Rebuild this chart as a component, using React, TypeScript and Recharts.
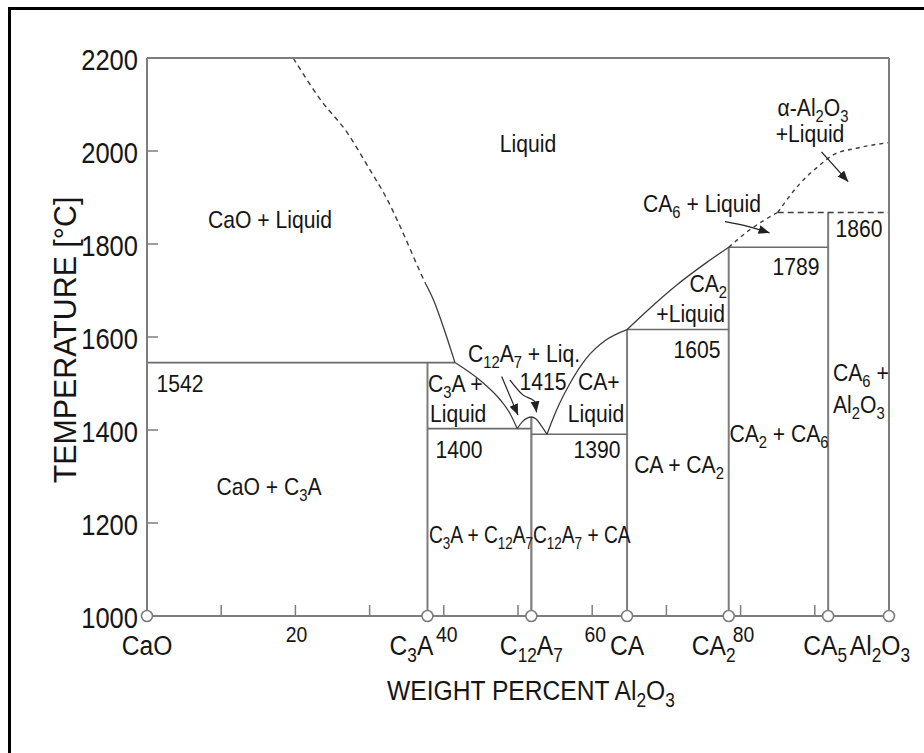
import React from 'react';
import { ComposedChart, Line, Scatter, XAxis, YAxis } from 'recharts';

// Helvetica-narrow look: Arial metrics squeezed horizontally
const FONT = "'Liberation Sans', Arial, sans-serif";
const SX = 0.88;
const INK = '#151515';
const AXIS = '#7d7d7d';
const PHASE = '#6a6a6a';
const CURVE = '#3c3c3c';

// temperature axis (°C)
const tempTicks = [1000, 1200, 1400, 1600, 1800, 2000, 2200];
const tempInnerTicks = [1200, 1400, 1600, 1800, 2000];
// weight percent Al2O3
const pctTicks = [10, 20, 30, 40, 50, 60, 70, 80, 90];
const pctLabels = [20, 40, 60, 80];

// compounds along the composition axis ("_n" = subscript)
const compoundNames = ['CaO', 'C_3A', 'C_12A_7', 'CA', 'CA_2', 'CA_5', 'Al_2O_3'];
const compoundPct = [0, 37.8, 51.8, 64.7, 78.4, 91.8, 100];
const compoundShift: Record<string, number> = { C_3A: -16, CA_2: -15, Al_2O_3: -9, CA_5: -3 };

// liquidus curves, x = wt% Al2O3, t = °C
const caoLiqDashed = [
  { x: 19.7, t: 2200 }, { x: 23.4, t: 2110 }, { x: 27.0, t: 2039 }, { x: 29.8, t: 1966 },
  { x: 32.4, t: 1895 }, { x: 34.5, t: 1824 }, { x: 36.5, t: 1751 }, { x: 37.5, t: 1716 },
];
const caoLiqSolid = [{ x: 37.5, t: 1716 }, { x: 38.6, t: 1680 }, { x: 40.2, t: 1609 }, { x: 41.5, t: 1545 }];
const c3aLiq = [{ x: 41.5, t: 1545 }, { x: 45.4, t: 1500 }, { x: 47.6, t: 1465 }, { x: 48.9, t: 1436 }, { x: 49.9, t: 1403 }];
const c12a7Liq = [
  { x: 49.9, t: 1403 }, { x: 50.6, t: 1418 }, { x: 51.3, t: 1426 }, { x: 51.8, t: 1428 },
  { x: 52.4, t: 1424 }, { x: 53.1, t: 1410 }, { x: 53.9, t: 1391 },
];
const caLiq = [{ x: 53.9, t: 1391 }, { x: 55.2, t: 1443 }, { x: 57.0, t: 1500 }, { x: 59.2, t: 1554 }, { x: 61.9, t: 1594 }, { x: 64.7, t: 1616 }];
const ca2Liq = [{ x: 64.7, t: 1616 }, { x: 67.3, t: 1655 }, { x: 71.4, t: 1712 }, { x: 75.4, t: 1760 }, { x: 78.4, t: 1793 }];
const ca6Liq = [{ x: 78.4, t: 1793 }, { x: 81.2, t: 1830 }, { x: 85.0, t: 1868 }];
const al2o3Liq = [{ x: 85.0, t: 1868 }, { x: 88.0, t: 1930 }, { x: 90.7, t: 1970 }, { x: 92.4, t: 1991 }, { x: 95.6, t: 2006 }, { x: 100, t: 2018 }];

// invariant (horizontal) lines
const iso1542 = [{ x: 0, t: 1545 }, { x: 41.5, t: 1545 }];
const iso1400 = [{ x: 37.8, t: 1403 }, { x: 51.8, t: 1403 }];
const iso1390 = [{ x: 51.8, t: 1391 }, { x: 64.7, t: 1391 }];
const iso1605 = [{ x: 64.7, t: 1616 }, { x: 78.4, t: 1616 }];
const iso1789 = [{ x: 78.4, t: 1793 }, { x: 91.8, t: 1793 }];
const iso1860 = [{ x: 85.0, t: 1868 }, { x: 100, t: 1868 }];

// compound (vertical) lines
const lineC3A = [{ x: 37.8, t: 1000 }, { x: 37.8, t: 1545 }];
const lineC12A7 = [{ x: 51.8, t: 1000 }, { x: 51.8, t: 1428 }];
const lineCA = [{ x: 64.7, t: 1000 }, { x: 64.7, t: 1616 }];
const lineCA2 = [{ x: 78.4, t: 1000 }, { x: 78.4, t: 1793 }];
const lineCA6 = [{ x: 91.8, t: 1000 }, { x: 91.8, t: 1868 }];

// pointer arrows
const arrowCA6 = [{ x: 77.9, t: 1848 }, { x: 81.2, t: 1837 }, { x: 83.9, t: 1824 }];
const arrowAl2O3 = [{ x: 90.9, t: 1998 }, { x: 94.5, t: 1934 }];
const arrowC12A7a = [{ x: 47.8, t: 1515 }, { x: 50.0, t: 1432 }];
const arrowC12A7b = [{ x: 48.9, t: 1508 }, { x: 50.7, t: 1475 }, { x: 52.2, t: 1462 }, { x: 52.5, t: 1438 }];

const compoundPoints = compoundPct.map((x) => ({ x, t: 1000 }));

// field labels (pixel placement on the page)
const labels = [
  { s: 'CaO + Liquid', x: 270, y: 228 },
  { s: 'Liquid', x: 528, y: 152 },
  { s: 'α-Al_2O_3', x: 813, y: 116 },
  { s: '+Liquid', x: 810, y: 142 },
  { s: 'CA_6 + Liquid', x: 702, y: 212 },
  { s: '1860', x: 859, y: 237 },
  { s: '1789', x: 796, y: 275 },
  { s: 'CA_2', x: 727, y: 292, a: 'end' },
  { s: '+Liquid', x: 725, y: 322, a: 'end' },
  { s: '1605', x: 697, y: 358 },
  { s: 'C_12A_7 + Liq.', x: 524, y: 362 },
  { s: '1415', x: 543, y: 390 },
  { s: 'CA+', x: 578, y: 390, a: 'start' },
  { s: 'Liquid', x: 596, y: 422 },
  { s: 'C_3A +', x: 428, y: 392, a: 'start' },
  { s: 'Liquid', x: 430, y: 422, a: 'start' },
  { s: '1542', x: 180, y: 392 },
  { s: '1400', x: 459, y: 458 },
  { s: '1390', x: 597, y: 458 },
  { s: 'CaO + C_3A', x: 269, y: 495 },
  { s: 'C_3A + C_12A_7', x: 429, y: 543, a: 'start', sx: 0.8 },
  { s: 'C_12A_7 + CA', x: 533, y: 543, a: 'start', sx: 0.8 },
  { s: 'CA + CA_2', x: 679, y: 473 },
  { s: 'CA_2 + CA_6', x: 779, y: 442 },
  { s: 'CA_6 +', x: 833, y: 381, a: 'start' },
  { s: 'Al_2O_3', x: 833, y: 413, a: 'start' },
];

function Rich({ s, size }: { s: string; size: number }) {
  const parts = s.split(/_(\d+)/);
  const d = Math.round(size * 0.26);
  return (
    <>
      {parts.map((p, i) =>
        i % 2 ? (
          <tspan key={i} dy={d} fontSize={size * 0.7}>{p}</tspan>
        ) : (
          <tspan key={i} dy={i > 0 ? -d : 0}>{p}</tspan>
        )
      )}
    </>
  );
}

function Txt({ x, y, s, size, anchor = 'middle', rotate, sx = SX }: any) {
  const tf = `translate(${x} ${y})${rotate ? ` rotate(${rotate})` : ''} scale(${sx} 1)`;
  return (
    <text transform={tf} x={0} y={0} textAnchor={anchor} fontSize={size} fontFamily={FONT} fill={INK}>
      <Rich s={String(s)} size={size} />
    </text>
  );
}

function LeftTick(props: any) {
  const { x, y, payload } = props;
  const v = payload.value;
  return (
    <g>
      {tempInnerTicks.includes(v) && <line x1={x} x2={x + 11} y1={y} y2={y} stroke={AXIS} strokeWidth={1.5} />}
      <Txt x={x - 9} y={y + 12} s={v} size={29} anchor="end" />
    </g>
  );
}

function RightTick(props: any) {
  const { x, y, payload } = props;
  if (!tempInnerTicks.includes(payload.value)) return <g />;
  return <line x1={x} x2={x - 11} y1={y} y2={y} stroke={AXIS} strokeWidth={1.5} />;
}

function TopTick(props: any) {
  const { x, y } = props;
  return <line x1={x} x2={x} y1={y} y2={y + 11} stroke={AXIS} strokeWidth={1.5} />;
}

function BottomTick(props: any) {
  const { x, y, payload } = props;
  const v = payload.value;
  const ci = compoundPct.indexOf(v);
  if (ci >= 0) {
    const name = compoundNames[ci];
    return <Txt x={x + (compoundShift[name] || 0)} y={y + 39} s={name} size={28} />;
  }
  return (
    <g>
      <line x1={x} x2={x} y1={y} y2={y - 11} stroke={AXIS} strokeWidth={1.5} />
      {pctLabels.includes(v) && <Txt x={x + (v === 20 ? 1 : 3)} y={y + 26} s={v} size={22} />}
    </g>
  );
}

const Hollow = (props: any) => (
  <circle cx={props.cx} cy={props.cy} r={5.5} fill="#fff" stroke={AXIS} strokeWidth={1.6} />
);

const seg = (data: any[], opts: any = {}) => (
  <Line
    data={data}
    dataKey="t"
    type={opts.type || 'linear'}
    stroke={opts.stroke || PHASE}
    strokeWidth={opts.w || 1.6}
    strokeDasharray={opts.dash}
    markerEnd={opts.arrow ? 'url(#arrowhead)' : undefined}
    dot={false}
    activeDot={false}
    legendType="none"
    isAnimationActive={false}
  />
);

export default function App() {
  return (
    <div style={{ position: 'absolute', left: 0, top: 0, width: 924, height: 753, background: '#fff', overflow: 'hidden' }}>
      <svg width={0} height={0} style={{ position: 'absolute' }}>
        <defs>
          <marker id="arrowhead" markerUnits="userSpaceOnUse" markerWidth={12} markerHeight={10} refX={11} refY={4.5} orient="auto">
            <path d="M0,0 L11,4.5 L0,9 z" fill="#222" />
          </marker>
        </defs>
      </svg>
      <div style={{ position: 'absolute', left: 8, top: 7, right: 0, bottom: 0, borderLeft: '3px solid #000', borderTop: '3px solid #000' }} />
      <div style={{ position: 'absolute', left: 0, top: 0 }}>
        <ComposedChart width={924} height={753} margin={{ top: 48, right: 25, bottom: 107, left: 87 }}>
          <XAxis
            dataKey="x"
            type="number"
            domain={[0, 100]}
            ticks={[...pctTicks, ...compoundPct]}
            interval={0}
            height={30}
            tickSize={0}
            tickMargin={0}
            tick={<BottomTick />}
            tickLine={false}
            axisLine={{ stroke: AXIS, strokeWidth: 2 }}
          />
          <XAxis
            xAxisId="top"
            orientation="top"
            type="number"
            domain={[0, 100]}
            ticks={pctTicks}
            interval={0}
            height={10}
            tickSize={0}
            tickMargin={0}
            tick={<TopTick />}
            tickLine={false}
            axisLine={{ stroke: AXIS, strokeWidth: 2 }}
          />
          <YAxis
            dataKey="t"
            type="number"
            domain={[1000, 2200]}
            ticks={tempTicks}
            interval={0}
            width={60}
            tickSize={0}
            tickMargin={0}
            tick={<LeftTick />}
            tickLine={false}
            axisLine={{ stroke: AXIS, strokeWidth: 2 }}
          />
          <YAxis
            yAxisId="right"
            orientation="right"
            type="number"
            domain={[1000, 2200]}
            ticks={tempTicks}
            interval={0}
            width={10}
            tickSize={0}
            tickMargin={0}
            tick={<RightTick />}
            tickLine={false}
            axisLine={{ stroke: AXIS, strokeWidth: 2 }}
          />

          {seg(lineC3A, { w: 2, stroke: AXIS })}
          {seg(lineC12A7, { w: 2.2, stroke: AXIS })}
          {seg(lineCA, { w: 2, stroke: AXIS })}
          {seg(lineCA2, { w: 2, stroke: AXIS })}
          {seg(lineCA6, { w: 2, stroke: AXIS })}

          {seg(iso1542)}
          {seg(iso1400)}
          {seg(iso1390)}
          {seg(iso1605)}
          {seg(iso1789)}
          {seg(iso1860, { dash: '6 4', stroke: CURVE, w: 1.5 })}

          {seg(caoLiqDashed, { type: 'monotone', dash: '5 4', stroke: CURVE, w: 1.4 })}
          {seg(caoLiqSolid, { type: 'monotone', stroke: CURVE, w: 1.3 })}
          {seg(c3aLiq, { type: 'monotone', stroke: CURVE, w: 1.3 })}
          {seg(c12a7Liq, { type: 'monotone', stroke: CURVE, w: 1.3 })}
          {seg(caLiq, { type: 'monotone', stroke: CURVE, w: 1.3 })}
          {seg(ca2Liq, { type: 'monotone', stroke: CURVE, w: 1.3 })}
          {seg(ca6Liq, { type: 'monotone', dash: '4 4', stroke: CURVE, w: 1.4 })}
          {seg(al2o3Liq, { type: 'monotone', dash: '4 4', stroke: CURVE, w: 1.4 })}

          {seg(arrowCA6, { type: 'monotone', stroke: '#222', w: 1.3, arrow: true })}
          {seg(arrowAl2O3, { stroke: '#222', w: 1.3, arrow: true })}
          {seg(arrowC12A7a, { stroke: '#222', w: 1.2, arrow: true })}
          {seg(arrowC12A7b, { type: 'monotone', stroke: '#222', w: 1.2, arrow: true })}

          <Scatter data={compoundPoints} dataKey="t" shape={<Hollow />} isAnimationActive={false} legendType="none" />
        </ComposedChart>
      </div>
      <svg width={924} height={753} style={{ position: 'absolute', left: 0, top: 0, pointerEvents: 'none' }}>
        {labels.map((l: any, i) => (
          <Txt key={i} x={l.x} y={l.y} s={l.s} size={24} anchor={l.a || 'middle'} sx={l.sx || SX} />
        ))}
        <Txt x={387} y={700} s="WEIGHT PERCENT Al_2O_3" size={28} anchor="start" />
        <Txt x={76} y={340} s="TEMPERATURE [°C]" size={31} rotate={-90} sx={0.98} />
      </svg>
    </div>
  );
}
